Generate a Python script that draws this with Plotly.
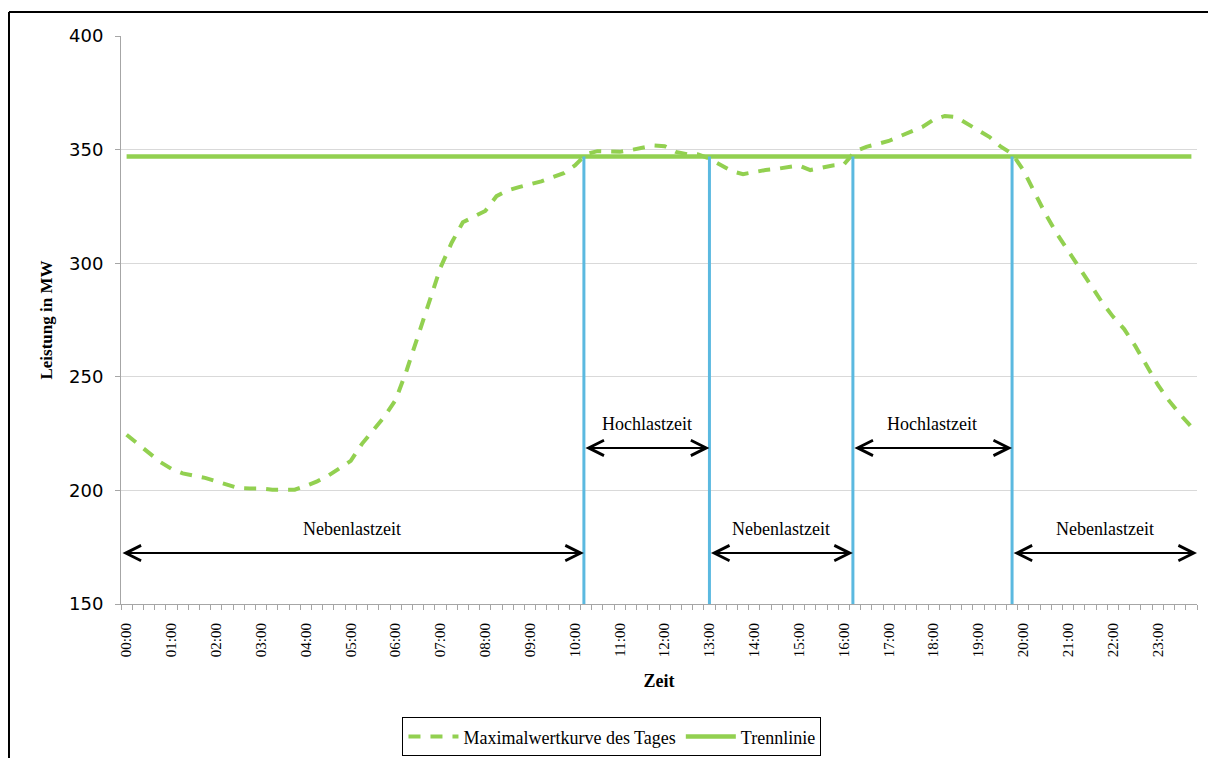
import plotly.graph_objects as go

# ---------------- data ----------------
hours = [i * 0.25 for i in range(96)]
max_curve = [
    224.5, 220.5, 216.0, 212.5, 209.5, 207.5, 206.5, 205.5,
    204.0, 202.5, 201.0, 200.8, 200.8, 200.3, 200.2, 200.3,
    202.0, 204.0, 206.5, 209.5, 213.0, 220.5, 226.5, 232.5,
    239.8, 253.0, 268.0, 283.0, 298.0, 309.0, 318.0, 320.5,
    323.0, 329.5, 332.0, 333.5, 334.8, 336.0, 337.8, 339.6,
    343.0, 348.0, 349.3, 349.0, 349.0, 349.8, 351.0, 351.8,
    351.5, 349.0, 348.0, 347.9, 346.0, 343.0, 340.5, 339.2,
    340.3, 341.0, 341.5, 342.3, 343.0, 341.0, 342.0, 343.0,
    343.5, 349.3, 351.2, 352.5, 353.8, 355.9, 357.8, 360.0,
    363.2, 364.8, 364.3, 361.2, 358.6, 355.5, 351.3, 348.2,
    341.0, 331.5, 321.5, 313.0, 305.5, 298.0, 291.0, 283.0,
    276.5, 271.0, 263.5, 255.0, 246.5, 239.5, 233.4, 228.0,
]
trenn_value = 347
trennlinie = [trenn_value] * len(hours)

tick_hours = list(range(24))
tick_labels = [f"{h:02d}:00" for h in tick_hours]

boundaries = [10.2, 13.0, 16.2, 19.75]
period_names = ["Nebenlastzeit", "Hochlastzeit", "Nebenlastzeit", "Hochlastzeit", "Nebenlastzeit"]
period_starts = [-0.125, 10.2, 13.0, 16.2, 19.75]
period_ends = [10.2, 13.0, 16.2, 19.75, 23.875]
arrow_level = {"Nebenlastzeit": 172.4, "Hochlastzeit": 218.7}
label_level = {"Nebenlastzeit": 183.0, "Hochlastzeit": 229.2}

# ---------------- styles ----------------
GREEN = "#92D050"
BLUE = "#5BB9E0"
SERIF = "Liberation Serif, Times New Roman, serif"

fig = go.Figure()
fig.add_trace(go.Scatter(
    x=hours, y=max_curve, mode="lines", name="Maximalwertkurve des Tages",
    line=dict(color=GREEN, width=4, dash="12px,10px"),
))
fig.add_trace(go.Scatter(
    x=hours, y=trennlinie, mode="lines", name="Trennlinie",
    line=dict(color=GREEN, width=4.5),
))

shapes = []
for b in boundaries:
    shapes.append(dict(type="line", xref="x", yref="y", x0=b, x1=b, y0=150, y1=trenn_value,
                       line=dict(color=BLUE, width=3), layer="above"))

# figure frame (top and left edge)
shapes.append(dict(type="line", xref="paper", yref="paper", x0=-0.1041, x1=1.1, y0=1.0423, y1=1.0423,
                   line=dict(color="black", width=2)))
shapes.append(dict(type="line", xref="paper", yref="paper", x0=-0.1041, x1=-0.1041, y0=1.0423, y1=-0.4,
                   line=dict(color="black", width=2)))

annotations = []
for name, s, e in zip(period_names, period_starts, period_ends):
    ya = arrow_level[name]
    annotations.append(dict(
        x=e, y=ya, ax=s, ay=ya, xref="x", yref="y", axref="x", ayref="y",
        text="", showarrow=True, arrowside="end+start",
        arrowhead=5, startarrowhead=5, arrowsize=1.5, startarrowsize=1.5,
        arrowwidth=2, arrowcolor="black", standoff=0, startstandoff=0,
    ))
    annotations.append(dict(
        x=(s + e) / 2, y=label_level[name], xref="x", yref="y", text=name,
        showarrow=False, font=dict(family=SERIF, size=18, color="black"),
    ))

fig.update_layout(
    width=1208, height=750,
    margin=dict(l=113, r=19, t=28, b=154, autoexpand=False),
    paper_bgcolor="white", plot_bgcolor="white",
    shapes=shapes, annotations=annotations,
    showlegend=True,
    legend=dict(
        orientation="h", x=0.4563, y=-0.234, xanchor="center", yanchor="middle",
        bordercolor="black", borderwidth=1, bgcolor="white",
        font=dict(family=SERIF, size=18, color="black"),
        itemwidth=50,
    ),
    xaxis=dict(
        range=[-0.125, 23.875], tickmode="array", tickvals=tick_hours, ticktext=tick_labels,
        tickangle=-90, ticks="", showgrid=False, zeroline=False, automargin=False,
        showline=True, linecolor="#A6A6A6", linewidth=1,
        ticklabelstandoff=12,
        tickfont=dict(family=SERIF, size=15, color="black"),
        minor=dict(tick0=-0.125, dtick=0.25, ticks="outside", ticklen=5, tickcolor="#A6A6A6", showgrid=False),
        title=dict(text="<b>Zeit</b>", font=dict(family=SERIF, size=18, color="black"), standoff=18),
    ),
    yaxis=dict(
        range=[150, 400], tickmode="linear", tick0=150, dtick=50,
        ticks="outside", ticklen=5, tickcolor="#A6A6A6", automargin=False,
        showgrid=True, gridcolor="#D9D9D9", gridwidth=1, zeroline=False,
        showline=True, linecolor="#A6A6A6", linewidth=1,
        ticklabelstandoff=8,
        tickfont=dict(family="DejaVu Sans, Verdana, sans-serif", size=18, color="black"),
        title=dict(text="<b>Leistung in MW</b>", font=dict(family=SERIF, size=17, color="black"), standoff=12),
    ),
)

fig.write_html("out.html")
